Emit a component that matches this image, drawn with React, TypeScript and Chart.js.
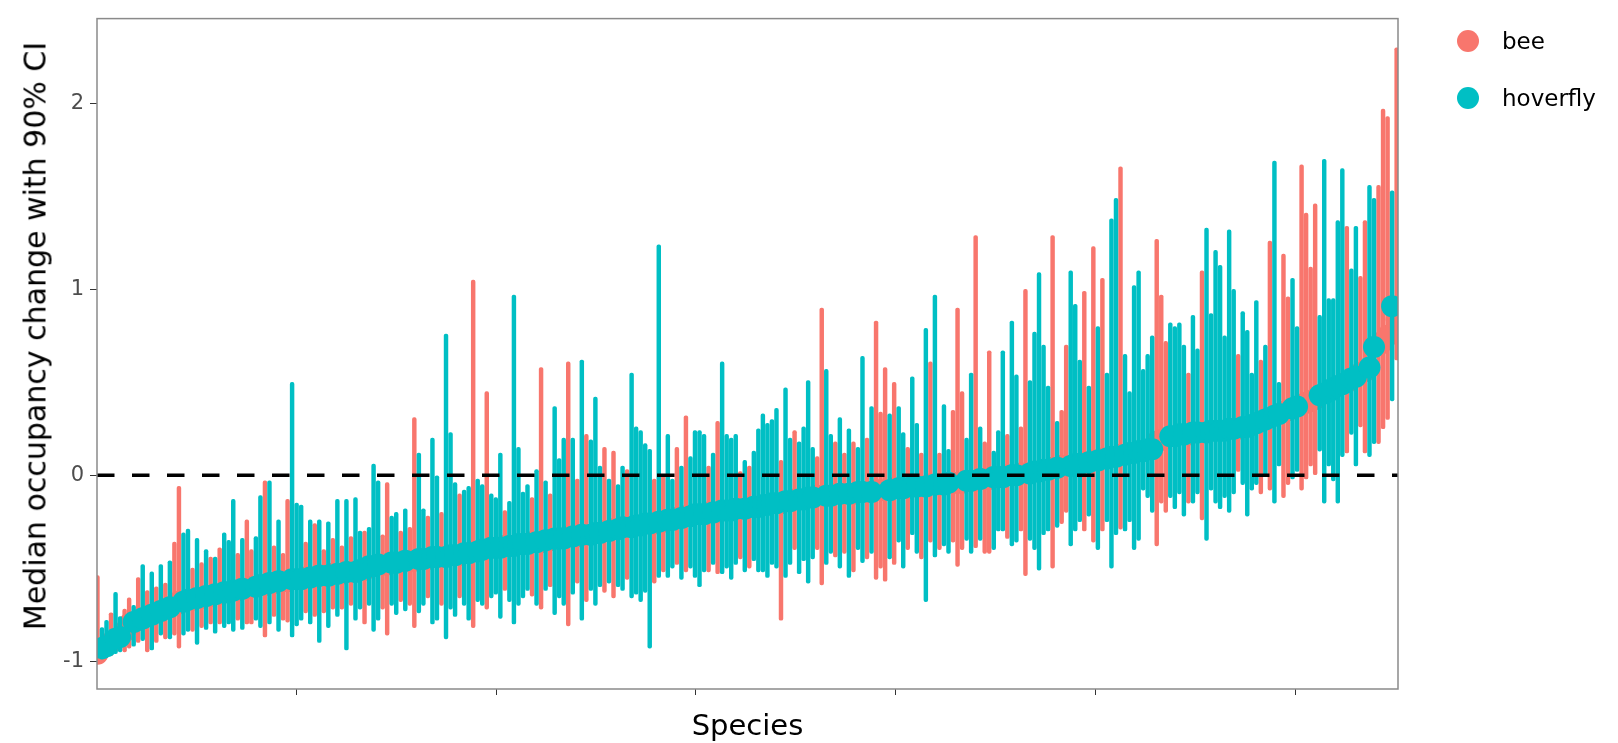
import React, { useEffect, useRef } from 'react';
import { Chart, registerables } from 'chart.js';

Chart.register(...registerables);

const BEE = '#F8766D';
const HOVERFLY = '#00BFC4';

// One character per species, in plotted (sorted) order: b = bee, h = hoverfly
const taxonCodes =
  'bhhbhhbbhbhbhbhbhbbhhbhbhbhbhhhbhb' +
  'bhhbhbhbbh' + 'hhbhbhbhbh' + 'bhbhhbhhhb' + 'bhhbhbbhhb' + 'hhbhhhbhhb' + 'h' +
  'hbhhhbhhhh' + 'hbhbhbhhhb' + 'hbhbhhhbhb' + 'hhbhhhhhbh' + 'bhhbhb' +
  'hhhhbhbhhh' + 'hbhbhhhhhh' + 'bhhbhhhhbb' + 'hhbhbhb' +
  'hhbhbbbhbh' + 'hbhhbhbhbh' + 'hbbbhhbhbb' + 'hhhbhhbbhh' + 'hhh' +
  'bhbbhhhbhb' + 'hbhhhbhhhh' + 'hhhbbbhhhh' + 'bhhbhhhhhh' + 'hbhhh' +
  'hbhbhhbbhh' + 'bbbbhhhhhh' + 'bhhbbhhbbb' + 'hb';

const medians = [
  -0.96, -0.93, -0.92, -0.90, -0.88, -0.87, -0.84, -0.80, -0.79, -0.78,
  -0.77, -0.76, -0.75, -0.74, -0.73, -0.72, -0.71, -0.70, -0.68, -0.68,
  -0.67, -0.67, -0.66, -0.66, -0.65, -0.65, -0.64, -0.64, -0.63, -0.63,
  -0.62, -0.62, -0.61, -0.61,
  -0.60, -0.60, -0.59, -0.59, -0.58, -0.58, -0.57, -0.57, -0.57, -0.56,
  -0.56, -0.56, -0.55, -0.55, -0.55, -0.54, -0.54, -0.54, -0.53, -0.53,
  -0.53, -0.52, -0.52, -0.52, -0.51, -0.51, -0.49, -0.49, -0.48, -0.48,
  -0.48, -0.47, -0.47, -0.47, -0.46, -0.46, -0.46, -0.45, -0.45, -0.45,
  -0.44, -0.44, -0.44, -0.44, -0.43, -0.43, -0.43, -0.42, -0.42, -0.41,
  -0.41,
  -0.40, -0.40, -0.39, -0.39, -0.39, -0.38, -0.38, -0.38, -0.37, -0.37,
  -0.37, -0.36, -0.36, -0.36, -0.35, -0.35, -0.34, -0.34, -0.34, -0.33,
  -0.33, -0.33, -0.32, -0.32, -0.32, -0.31, -0.31, -0.30, -0.30, -0.29,
  -0.29, -0.28, -0.28, -0.28, -0.27, -0.27, -0.26, -0.26, -0.26, -0.25,
  -0.25, -0.24, -0.24, -0.23, -0.23, -0.22,
  -0.22, -0.21, -0.21, -0.21, -0.20, -0.20, -0.20, -0.19, -0.19, -0.19,
  -0.18, -0.18, -0.18, -0.17, -0.17, -0.17, -0.16, -0.16, -0.15, -0.15,
  -0.15, -0.14, -0.14, -0.13, -0.13, -0.13, -0.12, -0.12, -0.11, -0.11,
  -0.11, -0.11, -0.10, -0.10, -0.10, -0.10, -0.10,
  -0.09, -0.09, -0.09, -0.09, -0.08, -0.08, -0.08, -0.08, -0.07, -0.07,
  -0.07, -0.07, -0.06, -0.06, -0.06, -0.06, -0.05, -0.05, -0.05, -0.05,
  -0.04, -0.04, -0.04, -0.04, -0.03, -0.03, -0.03, -0.02, -0.02, -0.02,
  -0.01, -0.01, -0.01, 0.00, 0.00, 0.00, 0.01, 0.01, 0.01, 0.02,
  0.02, 0.03, 0.03,
  0.04, 0.04, 0.05, 0.05, 0.05, 0.06, 0.06, 0.07, 0.07, 0.08,
  0.08, 0.09, 0.09, 0.10, 0.10, 0.11, 0.11, 0.12, 0.12, 0.13,
  0.13, 0.14, 0.14, 0.18, 0.19, 0.20, 0.21, 0.21, 0.22, 0.22,
  0.22, 0.23, 0.23, 0.23, 0.23, 0.24, 0.24, 0.24, 0.24, 0.25,
  0.25, 0.25, 0.26, 0.26, 0.27,
  0.28, 0.29, 0.30, 0.31, 0.32, 0.33, 0.34, 0.35, 0.36, 0.37,
  0.38, 0.39, 0.40, 0.41, 0.43, 0.44, 0.45, 0.47, 0.48, 0.49,
  0.50, 0.52, 0.53, 0.55, 0.56, 0.58, 0.69, 0.70, 0.72, 0.75,
  0.91, 0.84,
];

const lowers = [
  -1.00, -0.99, -0.98, -0.97, -0.96, -0.95, -0.95, -0.93, -0.92, -0.90,
  -0.89, -0.95, -0.94, -0.90, -0.86, -0.88, -0.88, -0.86, -0.93, -0.86,
  -0.84, -0.84, -0.91, -0.82, -0.83, -0.80, -0.85, -0.80, -0.82, -0.80,
  -0.84, -0.78, -0.83, -0.80,
  -0.80, -0.78, -0.82, -0.87, -0.80, -0.76, -0.84, -0.78, -0.79, -0.87,
  -0.81, -0.78, -0.74, -0.80, -0.76, -0.90, -0.74, -0.82, -0.72, -0.76,
  -0.72, -0.94, -0.70, -0.78, -0.72, -0.80, -0.70, -0.84, -0.78, -0.72,
  -0.86, -0.70, -0.75, -0.68, -0.73, -0.70, -0.82, -0.74, -0.70, -0.66,
  -0.80, -0.78, -0.70, -0.88, -0.72, -0.76, -0.66, -0.70, -0.78, -0.82,
  -0.68,
  -0.70, -0.72, -0.66, -0.64, -0.77, -0.62, -0.68, -0.80, -0.70, -0.66,
  -0.62, -0.65, -0.70, -0.72, -0.62, -0.60, -0.75, -0.66, -0.70, -0.81,
  -0.64, -0.58, -0.78, -0.68, -0.62, -0.70, -0.60, -0.63, -0.58, -0.66,
  -0.60, -0.62, -0.56, -0.66, -0.64, -0.68, -0.63, -0.93, -0.58, -0.55,
  -0.52, -0.55, -0.50, -0.48, -0.56, -0.52,
  -0.50, -0.55, -0.60, -0.52, -0.52, -0.48, -0.53, -0.53, -0.50, -0.56,
  -0.48, -0.45, -0.52, -0.50, -0.46, -0.52, -0.52, -0.55, -0.48, -0.50,
  -0.78, -0.55, -0.48, -0.40, -0.53, -0.46, -0.58, -0.45, -0.40, -0.59,
  -0.48, -0.42, -0.44, -0.50, -0.42, -0.55, -0.52,
  -0.40, -0.47, -0.45, -0.42, -0.56, -0.50, -0.57, -0.45, -0.48, -0.36,
  -0.50, -0.40, -0.32, -0.42, -0.45, -0.68, -0.36, -0.44, -0.40, -0.38,
  -0.42, -0.36, -0.49, -0.40, -0.35, -0.42, -0.39, -0.35, -0.42, -0.42,
  -0.40, -0.30, -0.30, -0.34, -0.38, -0.36, -0.30, -0.54, -0.35, -0.40,
  -0.51, -0.32, -0.30,
  -0.50, -0.28, -0.26, -0.20, -0.38, -0.30, -0.25, -0.30, -0.22, -0.36,
  -0.40, -0.30, -0.25, -0.50, -0.32, -0.29, -0.30, -0.25, -0.40, -0.35,
  -0.08, -0.12, -0.20, -0.38, -0.15, -0.20, -0.12, -0.18, -0.10, -0.22,
  -0.15, -0.15, -0.10, -0.24, -0.35, -0.08, -0.15, -0.18, -0.12, -0.20,
  -0.10, 0.02, -0.05, -0.22, -0.08,
  -0.05, -0.10, 0.00, -0.08, -0.15, 0.05, -0.12, -0.05, -0.02, 0.02,
  -0.08, -0.02, 0.05, 0.00, 0.13, -0.15, 0.05, -0.03, -0.15, 0.10,
  0.12, 0.22, 0.05, 0.26, 0.12, 0.10, 0.17, 0.17, 0.25, 0.30,
  0.40, 0.62,
];

const uppers = [
  -0.54, -0.82, -0.78, -0.74, -0.63, -0.76, -0.72, -0.66, -0.70, -0.55,
  -0.48, -0.62, -0.52, -0.60, -0.48, -0.58, -0.46, -0.36, -0.06, -0.31,
  -0.29, -0.50, -0.34, -0.47, -0.40, -0.44, -0.44, -0.39, -0.31, -0.35,
  -0.13, -0.42, -0.34, -0.24,
  -0.40, -0.33, -0.11, -0.03, -0.03, -0.38, -0.24, -0.42, -0.13, 0.50,
  -0.15, -0.16, -0.36, -0.24, -0.26, -0.24, -0.40, -0.25, -0.34, -0.13,
  -0.38, -0.13, -0.33, -0.12, -0.30, -0.30, -0.28, 0.06, -0.03, -0.32,
  -0.04, -0.22, -0.20, -0.30, -0.18, -0.28, 0.31, 0.12, -0.18, -0.22,
  0.20, 0.00, -0.20, 0.76, 0.23, -0.04, -0.10, -0.08, -0.06, 1.05,
  -0.02,
  -0.05, 0.45, -0.10, -0.12, 0.12, -0.19, -0.14, 0.97, 0.15, -0.09,
  -0.05, -0.12, 0.03, 0.58, -0.03, -0.10, 0.37, 0.09, 0.20, 0.61,
  0.20, -0.02, 0.62, 0.22, 0.19, 0.42, 0.05, 0.15, -0.02, 0.13,
  -0.05, 0.05, 0.03, 0.55, 0.26, 0.24, 0.17, 0.14, -0.02, 1.24,
  0.00, 0.22, -0.02, 0.15, 0.05, 0.32,
  0.10, 0.24, 0.24, 0.22, 0.05, 0.12, 0.29, 0.61, 0.22, 0.20,
  0.22, 0.02, 0.08, 0.05, 0.13, 0.25, 0.33, 0.28, 0.30, 0.36,
  0.08, 0.47, 0.20, 0.24, 0.18, 0.26, 0.51, 0.15, 0.10, 0.90,
  0.57, 0.22, 0.18, 0.31, 0.12, 0.25, 0.18,
  0.15, 0.64, 0.20, 0.37, 0.83, 0.34, 0.58, 0.33, 0.50, 0.37,
  0.23, 0.15, 0.53, 0.28, 0.12, 0.79, 0.61, 0.97, 0.12, 0.38,
  0.14, 0.35, 0.90, 0.45, 0.20, 0.55, 1.29, 0.26, 0.18, 0.67,
  0.13, 0.24, 0.67, 0.22, 0.83, 0.54, 0.26, 1.00, 0.51, 0.77,
  1.09, 0.70, 0.48,
  1.29, 0.29, 0.35, 0.70, 1.10, 0.92, 0.62, 0.99, 0.48, 1.23,
  0.80, 1.06, 0.55, 1.38, 1.49, 1.66, 0.65, 0.45, 1.02, 1.10,
  0.57, 0.65, 0.75, 1.27, 0.97, 0.72, 0.82, 0.80, 0.82, 0.70,
  0.55, 0.86, 0.68, 1.10, 1.33, 0.87, 1.21, 1.13, 0.75, 1.32,
  1.00, 0.65, 0.88, 0.78, 0.55,
  0.94, 0.62, 0.70, 1.26, 1.69, 0.50, 1.19, 0.96, 1.06, 0.80,
  1.67, 1.41, 1.12, 1.46, 0.86, 1.70, 0.95, 0.95, 1.37, 1.65,
  1.34, 1.11, 1.34, 1.07, 1.37, 1.56, 1.49, 1.56, 1.97, 1.93,
  1.53, 2.30,
];

const yTickValues = [-1, 0, 1, 2];
const xTickValues = [43.9, 88.1, 132.2, 176.4, 220.5, 264.6];
const legendLabels = ['bee', 'hoverfly'];
const legendColors = [BEE, HOVERFLY];
const xTitle = 'Species';
const yTitle = 'Median occupancy change with 90% CI';

const X_MIN = -0.1;
const X_MAX = 287.3;
const Y_MIN = -1.15;
const Y_MAX = 2.457;

const FONT = '"DejaVu Sans", Verdana, sans-serif';

const taxa = taxonCodes.split('').map((c) => (c === 'b' ? 'bee' : 'hoverfly'));
const indicesOf = (g: string) => medians.map((_, i) => i).filter((i) => taxa[i] === g);

const panelBorder = {
  id: 'panelBorder',
  afterDraw(chart: any) {
    const { ctx, chartArea: a } = chart;
    ctx.save();
    ctx.strokeStyle = '#8a8a8a';
    ctx.lineWidth = 1.5;
    ctx.strokeRect(a.left, a.top, a.right - a.left, a.bottom - a.top);
    ctx.restore();
  },
};

export default function App() {
  const ref = useRef<HTMLCanvasElement | null>(null);

  useEffect(() => {
    if (!ref.current) return;
    const beeIdx = indicesOf('bee');
    const hovIdx = indicesOf('hoverfly');
    const barCommon = {
      type: 'bar' as const,
      barThickness: 3.8,
      borderRadius: 1.9,
      borderSkipped: false,
      borderWidth: 0,
      grouped: false,
    };
    const chart = new Chart(ref.current, {
      type: 'scatter',
      data: {
        datasets: [
          {
            ...barCommon,
            label: 'bee CI',
            data: beeIdx.map((i) => ({ x: i, y: [lowers[i], uppers[i]] })),
            backgroundColor: BEE,
            order: 5,
          } as any,
          {
            type: 'scatter',
            label: 'bee',
            data: beeIdx.map((i) => ({ x: i, y: medians[i] })),
            backgroundColor: BEE,
            pointBorderWidth: 0,
            borderWidth: 0,
            pointRadius: 11,
            order: 4,
          },
          {
            ...barCommon,
            label: 'hoverfly CI',
            data: hovIdx.map((i) => ({ x: i, y: [lowers[i], uppers[i]] })),
            backgroundColor: HOVERFLY,
            order: 3,
          } as any,
          {
            type: 'scatter',
            label: 'hoverfly',
            data: hovIdx.map((i) => ({ x: i, y: medians[i] })),
            backgroundColor: HOVERFLY,
            pointBorderWidth: 0,
            borderWidth: 0,
            pointRadius: 11,
            order: 2,
          },
          {
            type: 'line',
            label: 'zero',
            data: [
              { x: X_MIN, y: 0 },
              { x: X_MAX, y: 0 },
            ],
            borderColor: '#000000',
            borderWidth: 3.5,
            borderDash: [17.5, 17.5],
            pointRadius: 0,
            fill: false,
            order: 1,
          },
        ],
      },
      options: {
        animation: false,
        responsive: false,
        devicePixelRatio: 1,
        events: [],
        layout: { padding: { top: 8, right: 220, bottom: 0, left: 0 } },
        plugins: { legend: { display: false }, tooltip: { enabled: false } },
        scales: {
          x: {
            type: 'linear',
            min: X_MIN,
            max: X_MAX,
            offset: false,
            afterBuildTicks: (s: any) => {
              s.ticks = xTickValues.map((v) => ({ value: v }));
            },
            afterFit: (s: any) => {
              s.height = 54;
            },
            ticks: { autoSkip: false, maxRotation: 0, callback: () => '' },
            grid: {
              display: true,
              offset: false,
              drawOnChartArea: false,
              drawTicks: true,
              tickLength: 6,
              color: '#333333',
              lineWidth: 1,
            },
            border: { display: false },
            title: {
              display: true,
              text: xTitle,
              color: '#000000',
              font: { family: FONT, size: 29, lineHeight: 1.1 },
              padding: { top: 0, bottom: 0 },
            },
          },
          y: {
            type: 'linear',
            min: Y_MIN,
            max: Y_MAX,
            beginAtZero: false,
            afterBuildTicks: (s: any) => {
              s.ticks = yTickValues.map((v) => ({ value: v }));
            },
            afterFit: (s: any) => {
              s.width = 97;
            },
            ticks: {
              autoSkip: false,
              color: '#4d4d4d',
              padding: 6,
              font: { family: FONT, size: 21 },
              callback: (v: any) => String(v),
            },
            grid: {
              display: true,
              offset: false,
              drawOnChartArea: false,
              drawTicks: true,
              tickLength: 7,
              color: '#333333',
              lineWidth: 1,
            },
            border: { display: false },
            title: { display: false },
          },
        },
      },
      plugins: [panelBorder],
    });
    return () => chart.destroy();
  }, []);

  return (
    <div
      style={{
        position: 'fixed',
        left: 0,
        top: 0,
        width: 1618,
        height: 743,
        background: '#ffffff',
        overflow: 'hidden',
      }}
    >
      <canvas ref={ref} width={1618} height={743} style={{ position: 'absolute', left: 0, top: 0 }} />
      <div
        style={{
          position: 'absolute',
          left: 35,
          top: 336,
          transform: 'translate(-50%, -50%) rotate(-90deg)',
          whiteSpace: 'nowrap',
          fontFamily: FONT,
          fontSize: 30,
          color: '#000000',
        }}
      >
        {yTitle}
      </div>
      {legendLabels.map((lab, k) => (
        <div
          key={lab}
          style={{
            position: 'absolute',
            left: 1457,
            top: 30 + k * 57,
            height: 22,
            display: 'flex',
            alignItems: 'center',
            fontFamily: FONT,
            fontSize: 23,
            color: '#000000',
            whiteSpace: 'nowrap',
          }}
        >
          <span
            style={{
              width: 22,
              height: 22,
              borderRadius: '50%',
              background: legendColors[k],
              display: 'inline-block',
              flex: '0 0 auto',
            }}
          />
          <span style={{ marginLeft: 23, lineHeight: '22px' }}>{lab}</span>
        </div>
      ))}
    </div>
  );
}
